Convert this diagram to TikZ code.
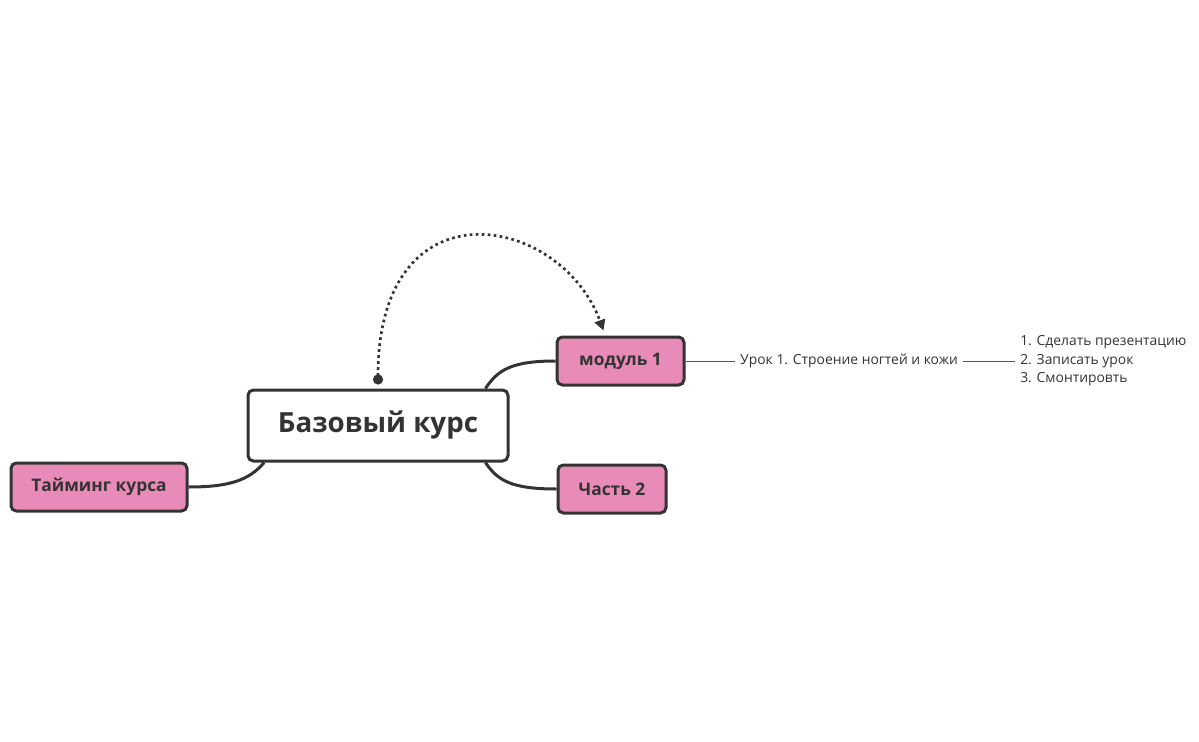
\documentclass[tikz,border=0pt]{standalone}
\usepackage{fontspec}
\setmainfont{Open Sans}
\usetikzlibrary{arrows.meta,calc}
\definecolor{ink}{HTML}{333333}
\definecolor{topicpink}{HTML}{E98BB8}
\definecolor{thin}{HTML}{555555}
\tikzset{
  rootbox/.style={draw=ink,line width=2.25pt,fill=white,rounded corners=4pt,text=ink,
    font=\fontsize{20.8}{24}\selectfont\bfseries,minimum width=195pt,minimum height=53.25pt,inner sep=0pt},
  topic/.style={draw=ink,line width=2.25pt,fill=topicpink,rounded corners=4pt,text=ink,
    font=\fontsize{13}{16}\selectfont\bfseries,minimum height=36pt,inner sep=0pt},
  leaf/.style={text=ink,font=\fontsize{10.4}{13.9}\selectfont,inner sep=3.75pt},
  branch/.style={draw=ink,line width=2.25pt},
  twig/.style={draw=thin,line width=0.75pt},
  relation/.style={draw=ink,line width=2pt,dash pattern=on 2pt off 2.5pt,
    {Circle[length=7.5pt]}-{Triangle[length=8pt,width=8pt]}},
}
\begin{document}
\begin{tikzpicture}[x=0.75pt,y=-0.75pt]
  \useasboundingbox (0,0) rectangle (1199,742);
  \node[rootbox] (root) at (378,425.5) {Базовый курс};
  \node[topic,minimum width=95.25pt] (m1) at (620.5,361) {модуль 1};
  \node[topic,minimum width=81pt] (part2) at (612,489) {Часть 2};
  \node[topic,minimum width=132pt] (timing) at (99,487) {Тайминг курса};
  \node[leaf] (lesson) at (849,361) {Урок 1. Строение ногтей и кожи};
  \node[leaf,anchor=west,align=left] (todo) at (1015,361)
    {1. Сделать презентацию\\2. Записать урок\\3. Смонтировть};
  \draw[branch] (root.19) .. controls +(12,-18) and +(-45,0) .. (m1.west);
  \draw[branch] (root.-19) .. controls +(12,18) and +(-45,0) .. (part2.west);
  \draw[branch] (root.198) .. controls +(-15,18) and +(40,0) .. (timing.east);
  \draw[twig] (m1.east) -- (lesson.west);
  \draw[twig] (lesson.east) -- (todo.west);
  \draw[relation] ($(root.north)+(0,-4)$) .. controls +(0,-205) and +(-43,-117)
    .. ($(m1.north)+(-17,-5)$);
\end{tikzpicture}
\end{document}
